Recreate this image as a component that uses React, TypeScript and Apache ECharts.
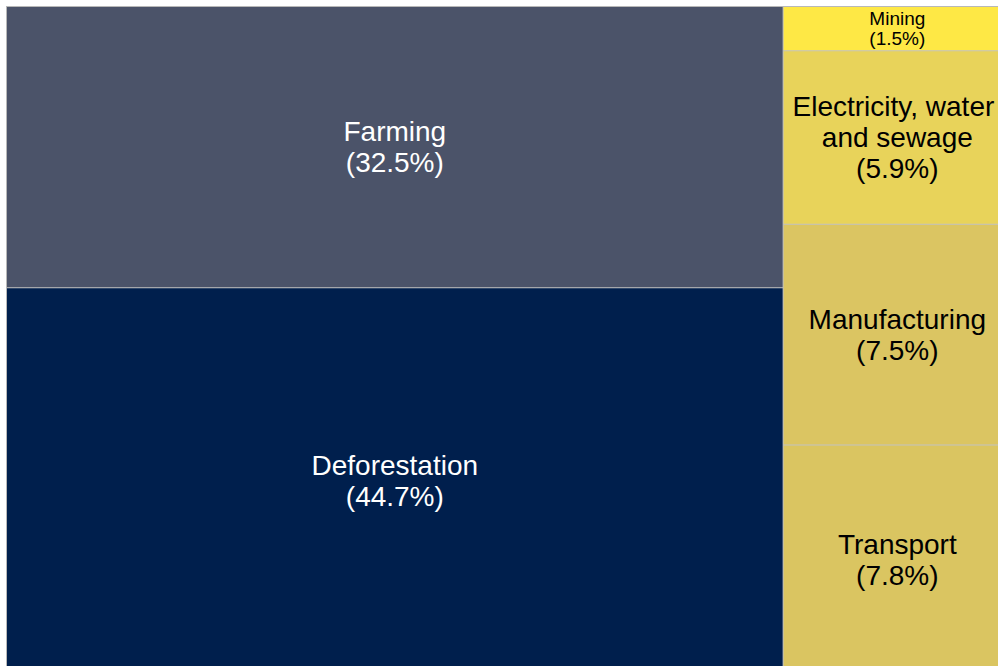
import React, { useEffect, useRef } from "react";
import * as echarts from "echarts";

const categories = [
  "Farming",
  "Deforestation",
  "Mining",
  "Electricity, water and sewage",
  "Manufacturing",
  "Transport",
];
const shares = [32.5, 44.7, 1.5, 5.9, 7.5, 7.8];
const fillColors = ["#4b5369", "#001f4d", "#fee845", "#e8d35a", "#dbc562", "#dac561"];
const textColors = ["#ffffff", "#ffffff", "#000000", "#000000", "#000000", "#000000"];

function leaf(i: number) {
  const small = shares[i] < 3;
  return {
    name: categories[i],
    value: shares[i],
    itemStyle: { color: fillColors[i] },
    label: {
      color: textColors[i],
      fontSize: small ? 19 : 28,
      lineHeight: small ? 20 : 31,
    },
  };
}

export default function App() {
  const ref = useRef<HTMLDivElement>(null);
  useEffect(() => {
    if (!ref.current) return;
    const chart = echarts.init(ref.current, null, { renderer: "svg" });
    // Nested grouping so that the squarified layout splits into a left column
    // (Farming / Deforestation) and a right column of stacked strips.
    const data = [
      { name: "A", children: [leaf(0), leaf(1)] },
      {
        name: "B",
        children: [
          leaf(2),
          { name: "B1", children: [leaf(3), { name: "B2", children: [leaf(4), leaf(5)] }] },
        ],
      },
    ];
    chart.setOption({
      animation: false,
      tooltip: { show: false },
      series: [
        {
          type: "treemap",
          left: 6,
          top: 6,
          width: 1006,
          height: 669,
          roam: false,
          nodeClick: false,
          sort: false,
          visibleMin: 0,
          breadcrumb: { show: false },
          itemStyle: { borderWidth: 0, gapWidth: 1, borderColor: "#c2c2c2" },
          levels: [{ itemStyle: { borderWidth: 1, gapWidth: 1, borderColor: "#b8b8b8" } }],
          label: {
            show: true,
            position: "inside",
            align: "center",
            verticalAlign: "middle",
            padding: 0,
            fontFamily: "Liberation Sans, Arial, sans-serif",
            overflow: "break",
            lineOverflow: "none",
            formatter: (p: any) => `${p.name}\n(${p.value}%)`,
          },
          upperLabel: { show: false },
          emphasis: { disabled: true },
          data,
        },
      ],
    });
    return () => chart.dispose();
  }, []);
  return (
    <div
      style={{
        position: "fixed",
        left: 0,
        top: 0,
        width: 998,
        height: 666,
        overflow: "hidden",
        background: "#ffffff",
      }}
    >
      <div ref={ref} style={{ width: 1014, height: 676 }} />
    </div>
  );
}
